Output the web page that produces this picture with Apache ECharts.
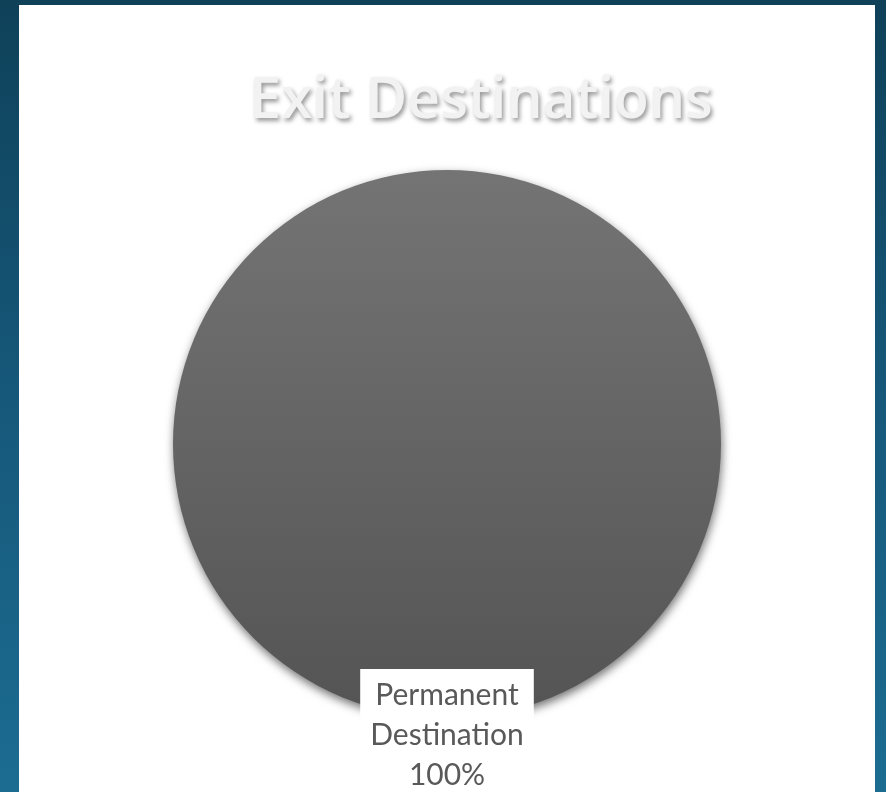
<!DOCTYPE html>
<html>
<head>
<meta charset="utf-8">
<script src="https://cdn.jsdelivr.net/npm/echarts@6/dist/echarts.min.js"></script>
<style>
  html, body { margin: 0; padding: 0; width: 886px; height: 792px; overflow: hidden; }
  body { background: linear-gradient(to bottom, #0f4159 0%, #16587a 50%, #1c6c92 100%); position: relative; }
  #panel { position: absolute; left: 19px; top: 5px; width: 856px; height: 787px; background: #ffffff; }
  #chart { width: 100%; height: 100%; }
</style>
</head>
<body>
<div id="panel"><div id="chart"></div></div>
<script>
// Exit destination shares
const categories = ['Permanent Destination'];
const shares = [100];

const chart = echarts.init(document.getElementById('chart'), null, { renderer: 'canvas' });

const pieData = categories.map((name, i) => ({ name: name, value: shares[i] }));

chart.setOption({
  animation: false,
  title: {
    text: 'Exit Destinations',
    left: 457,
    top: 63,
    textAlign: 'center',
    textStyle: {
      fontFamily: 'Open Sans',
      fontWeight: 600,
      fontSize: 57,
      color: '#f2f2f2',
      textShadowColor: 'rgba(0,0,0,0.4)',
      textShadowBlur: 4,
      textShadowOffsetX: 2,
      textShadowOffsetY: 3
    }
  },
  series: [{
    type: 'pie',
    center: [428, 439],
    radius: 274,
    startAngle: 90,
    clockwise: true,
    data: pieData,
    itemStyle: {
      color: new echarts.graphic.LinearGradient(0, 0, 0, 1, [
        { offset: 0, color: '#747474' },
        { offset: 1, color: '#545454' }
      ]),
      shadowColor: 'rgba(0,0,0,0.55)',
      shadowBlur: 10,
      shadowOffsetX: 1,
      shadowOffsetY: 4
    },
    label: {
      show: true,
      position: 'center',
      formatter: function (p) { return p.name.replace(' ', '\n') + '\n' + p.value + '%'; },
      fontFamily: 'Lato',
      fontSize: 30,
      lineHeight: 40,
      color: '#595959',
      backgroundColor: '#ffffff',
      padding: [6, 10, 6, 10],
      align: 'center'
    },
    labelLine: { show: false },
    // Pull the label down so it straddles the bottom rim of the pie
    labelLayout: function (params) {
      const sector = params.rect;
      const lab = params.labelRect;
      const targetTop = sector.y + sector.height - 49;
      return { dy: targetTop - lab.y };
    }
  }]
});
</script>
</body>
</html>
